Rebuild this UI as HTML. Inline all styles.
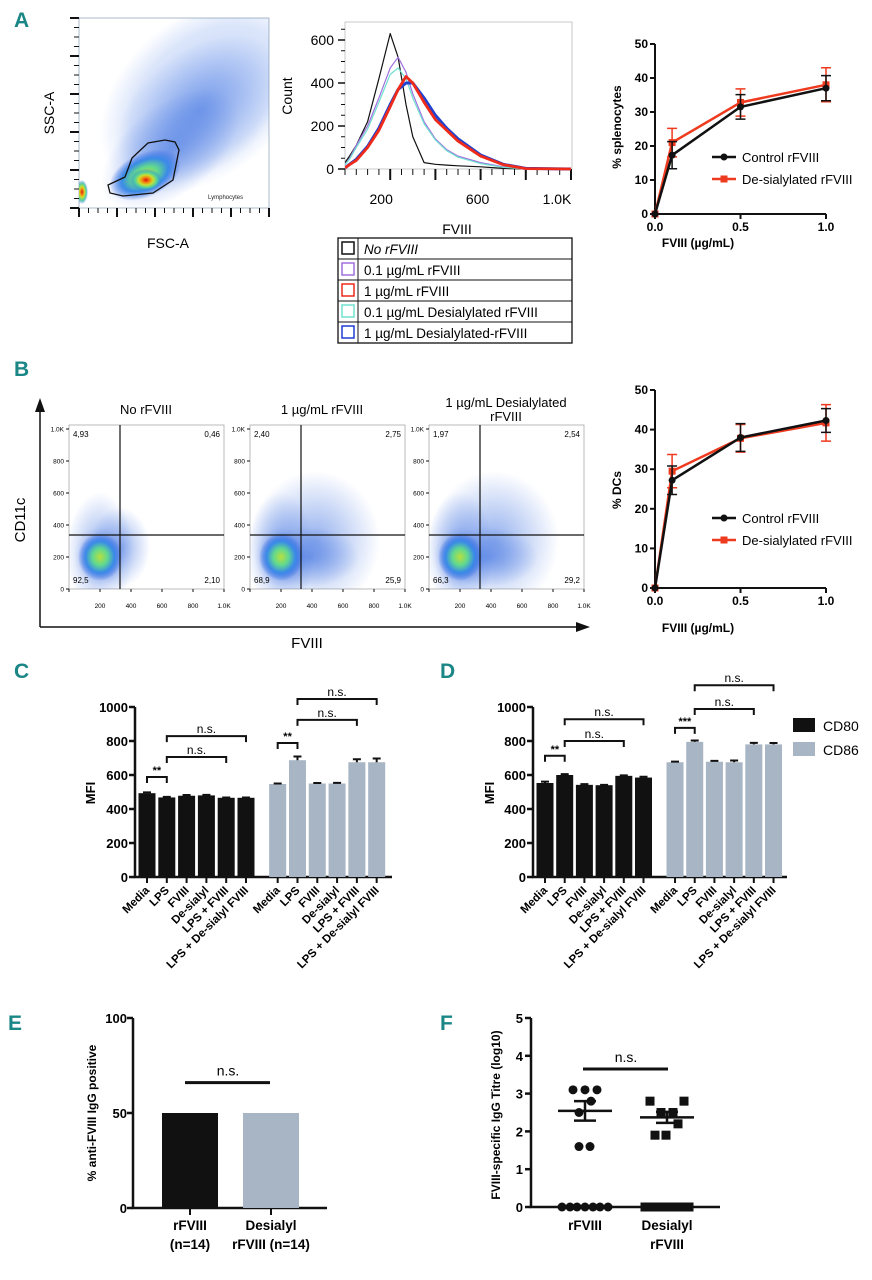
<!DOCTYPE html>
<html><head><meta charset="utf-8"><style>
html,body{margin:0;padding:0;background:#fff}
svg{display:block;font-family:"Liberation Sans",sans-serif}
.pl{font-size:21px;fill:#1a8686;font-weight:bold}
.b{font-weight:bold}
</style></head><body>
<svg id="fig" width="872" height="1280" viewBox="0 0 872 1280" xmlns="http://www.w3.org/2000/svg">
<defs>
<radialGradient id="hot"><stop offset="0" stop-color="#e01010"/><stop offset="0.25" stop-color="#f08a10"/><stop offset="0.45" stop-color="#c8e030"/><stop offset="0.7" stop-color="#50d0a0"/><stop offset="1" stop-color="#3070e0" stop-opacity="0"/></radialGradient>
<radialGradient id="warm"><stop offset="0" stop-color="#b8e040"/><stop offset="0.35" stop-color="#60d890"/><stop offset="0.65" stop-color="#3a8ae8"/><stop offset="1" stop-color="#3060e0" stop-opacity="0"/></radialGradient>
<radialGradient id="haze"><stop offset="0" stop-color="#3a6ee0" stop-opacity="0.55"/><stop offset="1" stop-color="#3a6ee0" stop-opacity="0"/></radialGradient>
<radialGradient id="hazeLight"><stop offset="0" stop-color="#4a7ee8" stop-opacity="0.35"/><stop offset="0.7" stop-color="#4a7ee8" stop-opacity="0.2"/><stop offset="1" stop-color="#4a7ee8" stop-opacity="0"/></radialGradient>
<clipPath id="clipA"><rect x="79" y="18" width="190" height="190"/></clipPath>
<clipPath id="clipB0"><rect x="69" y="425" width="155" height="164"/></clipPath>
<clipPath id="clipB1"><rect x="250" y="425" width="155" height="164"/></clipPath>
<clipPath id="clipB2"><rect x="429" y="425" width="155" height="164"/></clipPath>
<clipPath id="clipH"><rect x="345" y="22" width="227" height="150"/></clipPath>
</defs>

<text class="pl" x="14" y="27">A</text>
<text class="pl" x="14" y="376">B</text>
<text class="pl" x="14" y="678">C</text>
<text class="pl" x="440" y="678">D</text>
<text class="pl" x="8" y="1030">E</text>
<text class="pl" x="440" y="1030">F</text>

<g>
 <rect x="79" y="18" width="190" height="190" fill="#fff" stroke="#9ab" stroke-width="0.8"/>
 <g clip-path="url(#clipA)">
 <ellipse cx="205" cy="95" rx="120" ry="80" transform="rotate(-40 205 95)" fill="url(#hazeLight)"/>
 <ellipse cx="200" cy="110" rx="95" ry="60" transform="rotate(-38 200 110)" fill="url(#haze)"/>
 <ellipse cx="170" cy="150" rx="80" ry="45" transform="rotate(-38 170 150)" fill="url(#haze)"/>
 <ellipse cx="145" cy="175" rx="38" ry="22" transform="rotate(-25 145 175)" fill="url(#warm)"/>
 <ellipse cx="146" cy="180" rx="16" ry="11" fill="url(#hot)"/>
 <ellipse cx="82" cy="192" rx="6" ry="12" fill="url(#hot)"/>
 </g>
 <path d="M108,185 L110,193 L123,196 L153,193 L173,180 L179,150 L175,142 L165,140 L148,143 L132,158 L125,177 Z" fill="none" stroke="#111" stroke-width="1.3"/>
 <text x="208" y="199" font-size="6" fill="#222">Lymphocytes</text>
 <g id="aScatTicks" stroke="#111"></g>
 <text x="168" y="248" font-size="14" text-anchor="middle">FSC-A</text>
 <text x="54" y="113" font-size="14" text-anchor="middle" transform="rotate(-90 54 113)">SSC-A</text>
</g>

<g id="hist">
 <rect x="345" y="22" width="227" height="147" fill="none" stroke="#bbb" stroke-width="0.8"/>
 <text x="292" y="96" font-size="14" text-anchor="middle" transform="rotate(-90 292 96)">Count</text>
 <text x="457" y="234" font-size="14" text-anchor="middle">FVIII</text>
</g>

<g id="histLegend">
 <rect x="338" y="238" width="234" height="105" fill="#fff" stroke="#111" stroke-width="1.3"/>
</g>

<g id="lineA">
 <text x="621" y="127" font-size="12" class="b" text-anchor="middle" transform="rotate(-90 621 127)">% splenocytes</text>
 <text x="698" y="247" font-size="12" class="b" text-anchor="middle">FVIII (µg/mL)</text>
</g>

<g>
 <line x1="40" y1="627" x2="40" y2="410" stroke="#111" stroke-width="1.5"/>
 <polygon points="35,412 45,412 40,398" fill="#111"/>
 <line x1="40" y1="627" x2="578" y2="627" stroke="#111" stroke-width="1.5"/>
 <polygon points="576,622 576,632 590,627" fill="#111"/>
 <text x="25" y="520" font-size="15" text-anchor="middle" transform="rotate(-90 25 520)">CD11c</text>
 <text x="307" y="648" font-size="15" text-anchor="middle">FVIII</text>
 <text x="146" y="414" font-size="13" text-anchor="middle">No rFVIII</text>
 <text x="322" y="414" font-size="13" text-anchor="middle">1 µg/mL rFVIII</text>
 <text x="506" y="407" font-size="13" text-anchor="middle">1 µg/mL Desialylated</text>
 <text x="506" y="421" font-size="13" text-anchor="middle">rFVIII</text>
</g>
<g id="bPlots"></g>

<g id="lineB">
 <text x="621" y="490" font-size="12" class="b" text-anchor="middle" transform="rotate(-90 621 490)">% DCs</text>
 <text x="698" y="632" font-size="12" class="b" text-anchor="middle">FVIII (µg/mL)</text>
</g>

<g id="barC">
 <text x="95" y="793" font-size="13" class="b" text-anchor="middle" transform="rotate(-90 95 793)">MFI</text>
</g>
<g id="barD">
 <text x="494" y="793" font-size="13" class="b" text-anchor="middle" transform="rotate(-90 494 793)">MFI</text>
 <rect x="793" y="718" width="22" height="14" fill="#111"/>
 <text x="823" y="731" font-size="14">CD80</text>
 <rect x="793" y="742" width="22" height="14" fill="#a7b5c4"/>
 <text x="823" y="755" font-size="14">CD86</text>
</g>

<g id="barE">
 <text x="96" y="1113" font-size="12" class="b" text-anchor="middle" transform="rotate(-90 96 1113)">% anti-FVIII IgG positive</text>
</g>
<g id="dotF">
 <text x="500" y="1115" font-size="12" class="b" text-anchor="middle" transform="rotate(-90 500 1115)">FVIII-specific IgG Titre (log10)</text>
</g>
</svg>

<script>
// ---------- DATA ----------
const histX = [0,20,50,100,150,200,235,270,300,350,400,450,500,600,700,800,1000];
const histNoRF  = [30,60,110,220,420,630,520,300,150,30,22,18,15,10,3,0,0];
const histRF01  = [20,50,110,200,330,470,520,450,350,220,140,90,60,30,10,0,0];
const histDes01 = [20,45,100,185,310,440,470,420,330,210,135,85,55,25,8,0,0];
const histRF1   = [5,20,40,100,180,290,370,430,400,310,230,180,130,60,20,2,0];
const histDes1  = [5,22,45,105,190,300,370,400,400,330,250,190,140,65,22,3,0];
const histYTicks = [0,200,400,600];
const histXTicks = [200,600,1000];
const histXTickLabels = ['200','600','1.0K'];
const legendLabels = ['No rFVIII','0.1 µg/mL rFVIII','1 µg/mL rFVIII','0.1 µg/mL Desialylated rFVIII','1 µg/mL Desialylated-rFVIII'];

const doseX = [0,0.1,0.5,1.0];
const splenoControl = [0,17.3,31.5,37];
const splenoControlErr = [0,4,3.6,3.7];
const splenoDes = [0,21,32.8,38];
const splenoDesErr = [0,4.2,4,5];
const dcControl = [0,27.2,38,42.3];
const dcControlErr = [0,3.6,3.5,3];
const dcDes = [0,29.5,37.8,41.7];
const dcDesErr = [0,4.2,3.5,4.6];
const lineYTicks = [0,10,20,30,40,50];
const lineXTicks = [0,0.5,1.0];
const lineXTickLabels = ['0.0','0.5','1.0'];

const bQuadrants = [['4,93','0,46','92,5','2,10'],['2,40','2,75','68,9','25,9'],['1,97','2,54','66,3','29,2']];
const bAxisTicks = [0,200,400,600,800,1000];
const bAxisTickLabels = ['0','200','400','600','800','1.0K'];

const barCats = ['Media','LPS','FVIII','De-sialyl','LPS + FVIII','LPS + De-sialyl FVIII'];
const cCD80 = [493,468,478,480,466,466];
const cCD80Err = [5,3,4,3,2,2];
const cCD86 = [547,687,550,550,675,675];
const cCD86Err = [3,22,3,4,18,22];
const dCD80 = [553,600,542,540,595,585];
const dCD80Err = [8,5,4,2,3,5];
const dCD86 = [675,795,678,675,780,780];
const dCD86Err = [4,8,5,10,9,8];
const barYTicks = [0,200,400,600,800,1000];
const cBrackets = [[0,0,1,588,'**'],[0,1,4,706,'n.s.'],[0,1,5,829,'n.s.'],[1,0,1,788,'**'],[1,1,4,924,'n.s.'],[1,1,5,1047,'n.s.']];
const dBrackets = [[0,0,1,713,'**'],[0,1,4,800,'n.s.'],[0,1,5,928,'n.s.'],[1,0,1,877,'***'],[1,1,4,988,'n.s.'],[1,1,5,1128,'n.s.']];

const eGroups = ['rFVIII','Desialyl'];
const ePercent = [50,50];
const eYTicks = [0,50,100];

const fRF = [3.1,3.1,3.1,2.8,2.5,1.6,1.6,0,0,0,0,0,0,0];
const fDes = [2.8,2.8,2.5,2.5,2.2,1.9,1.9,0,0,0,0,0,0,0];
const fYTicks = [0,1,2,3,4,5];
const fRFJitter = [-12,0,12,6,-6,-6,5,-23,-15,-8,0,8,15,23];
const fDesJitter = [-17,17,-6,6,11,-12,-1,-22,-15,-7,0,7,15,22];

// ---------- HELPERS ----------
const NS='http://www.w3.org/2000/svg';
function el(tag, attrs, parent){const e=document.createElementNS(NS,tag);for(const k in attrs)e.setAttribute(k,attrs[k]);(parent||document.getElementById('fig')).appendChild(e);return e;}
function txt(s, attrs, parent){const e=el('text',attrs,parent);e.textContent=s;return e;}

(function(){
 const g=document.getElementById('aScatTicks');
 for(let i=0;i<=20;i++){const y=208-i*9.5;const big=i%4===0;const t=el('line',{x1:big?70:74,y1:y,x2:79,y2:y,'stroke-width':big?2:1},g);
 
 }
 for(let i=0;i<=20;i++){const x=79+i*9.5;const big=i%4===0;const t=el('line',{x1:x,y1:208,x2:x,y2:big?217:213,'stroke-width':big?2:1},g);
 
 }
})();

(function(){
 const g=document.getElementById('hist');
 const hx=v=>345+v*0.226, hy=v=>169-v*0.215;
 histYTicks.forEach(v=>{const l=el('line',{x1:338,y1:hy(v),x2:345,y2:hy(v),stroke:'#111','stroke-width':1.5},g);
 
 
 const t=txt(String(v),{x:334,y:hy(v)+5,'font-size':14,'text-anchor':'end'},g);
 
 });
 for(let v=50;v<=650;v+=50){const l=el('line',{x1:341,y1:hy(v),x2:345,y2:hy(v),stroke:'#111','stroke-width':1},g);
 
 }
 for(let v=0;v<=1000;v+=50){const big=v%200===0&&v>0;const l=el('line',{x1:hx(v),y1:169,x2:hx(v),y2:big?180:175,stroke:'#111','stroke-width':big?2:1},g);
 
 }
 histXTicks.forEach((v,i)=>{const t=txt(histXTickLabels[i],{x:hx(v)-(i===2?14:i===0?9:3),y:204,'font-size':14,'text-anchor':'middle'},g);
 
 });
 const cg=el('g',{'clip-path':'url(#clipH)'},g);
 const series=[[histNoRF,'#111',1.2,'curve-no-rfviii'],[histRF01,'#a070e0',1.2,'curve-0.1-rfviii'],[histDes01,'#70e0d0',1.2,'curve-0.1-desialylated'],[histDes1,'#2040d0',3,'curve-1-desialylated'],[histRF1,'#ee2a1a',2.8,'curve-1-rfviii']];
 series.forEach(s=>{const d=histX.map((x,i)=>(i?'L':'M')+hx(x).toFixed(1)+','+hy(s[0][i]).toFixed(1)).join(' ');
 const p=el('path',{d:d,fill:'none',stroke:s[1],'stroke-width':s[2],'stroke-linejoin':'round'},cg);
 
 });
 const lg=document.getElementById('histLegend');
 const cols=['#111','#a070e0','#ee2a1a','#70e0d0','#2040d0'];
 legendLabels.forEach((s,i)=>{const y=238+i*21;
 if(i>0){const l=el('line',{x1:338,y1:y,x2:572,y2:y,stroke:'#111','stroke-width':1},lg);
 
 }
 const b=el('rect',{x:342,y:y+4,width:12,height:12,fill:'none',stroke:cols[i],'stroke-width':1.5},lg);
 
 
 const t=txt(s,{x:364,y:y+16,'font-size':13.5,'font-style':i===0?'italic':'normal'},lg);
 
 });
 const vl=el('line',{x1:358,y1:238,x2:358,y2:343,stroke:'#111','stroke-width':1},lg);
 
 
})();

function lineChart(gid, y0, y50, ctl, ctlE, des, desE, legY){
 const g=document.getElementById(gid);
 const lx=v=>655+v*171, ly=v=>y0-(y0-y50)*v/50;
 const ax=el('path',{d:`M655,${ly(50)} L655,${y0} L${lx(1)},${y0}`,fill:'none',stroke:'#111','stroke-width':2},g);
 
 
 lineYTicks.forEach(v=>{const l=el('line',{x1:650,y1:ly(v),x2:655,y2:ly(v),stroke:'#111','stroke-width':2},g);
 
 
 const t=txt(String(v),{x:648,y:ly(v)+4,'font-size':12,'font-weight':'bold','text-anchor':'end'},g);
 
 });
 lineXTicks.forEach((v,i)=>{const l=el('line',{x1:lx(v),y1:y0,x2:lx(v),y2:y0+5,stroke:'#111','stroke-width':2},g);
 
 
 const t=txt(lineXTickLabels[i],{x:lx(v),y:y0+17,'font-size':12,'font-weight':'bold','text-anchor':'middle'},g);
 
 });
 [[des,desE,'#ee3a1e','desialylated-series'],[ctl,ctlE,'#111','control-series']].forEach(s=>{
  const d=doseX.map((x,i)=>(i?'L':'M')+lx(x)+','+ly(s[0][i])).join(' ');
  const p=el('path',{d:d,fill:'none',stroke:s[2],'stroke-width':2.5},g);
  
  
  doseX.forEach((x,i)=>{const v=s[0][i],e=s[1][i];
   if(e>0){const eb=el('path',{d:`M${lx(x)},${ly(v-e)} L${lx(x)},${ly(v+e)} M${lx(x)-5},${ly(v-e)} L${lx(x)+5},${ly(v-e)} M${lx(x)-5},${ly(v+e)} L${lx(x)+5},${ly(v+e)}`,stroke:s[2],'stroke-width':1.5,fill:'none'},g);
   
   }
   const m=s[2]==='#111'?el('circle',{cx:lx(x),cy:ly(v),r:3.5,fill:s[2]},g):el('rect',{x:lx(x)-3.5,y:ly(v)-3.5,width:7,height:7,fill:s[2]},g);
   
   });
 });
 [['Control rFVIII','#111',legY],['De-sialylated rFVIII','#ee3a1e',legY+22]].forEach((s,i)=>{
  const l=el('line',{x1:712,y1:s[2],x2:736,y2:s[2],stroke:s[1],'stroke-width':2.5},g);
  
  
  const m=i===0?el('circle',{cx:724,cy:s[2],r:3.5,fill:s[1]},g):el('rect',{x:720.5,y:s[2]-3.5,width:7,height:7,fill:s[1]},g);
  
  
  const t=txt(s[0],{x:742,y:s[2]+5,'font-size':13},g);
  
  });
}
lineChart('lineA',214,44,splenoControl,splenoControlErr,splenoDes,splenoDesErr,157);
lineChart('lineB',588,390,dcControl,dcControlErr,dcDes,dcDesErr,518);

(function(){
 const root=document.getElementById('bPlots');
 const lefts=[69,250,429];
 bQuadrants.forEach((q,k)=>{
  const g=el('g',{},root);
  
  
  const L=lefts[k], R=L+155, T=425, B=589;
  const px=v=>L+v*0.155, py=v=>B-v*0.16;
  el('rect',{x:L,y:T,width:155,height:164,fill:'#fff',stroke:'#aaa','stroke-width':0.8},g);
  const cg=el('g',{'clip-path':`url(#clipB${k})`},g);
  el('ellipse',{cx:px(200),cy:py(230),rx:34,ry:60,fill:'url(#haze)'},cg);
  if(k>0){el('ellipse',{cx:px(420),cy:py(300),rx:65,ry:70,fill:'url(#haze)'},cg);
   el('ellipse',{cx:px(380),cy:py(200),rx:50,ry:30,fill:'url(#haze)'},cg);}
  else {el('ellipse',{cx:px(330),cy:py(260),rx:30,ry:40,fill:'url(#haze)'},cg);}
  el('ellipse',{cx:px(200),cy:py(200),rx:26,ry:30,fill:'url(#haze)'},cg);
  el('ellipse',{cx:px(200),cy:py(200),rx:22,ry:24,fill:'url(#warm)'},cg);
  const vx=L+51, hy=535;
  const ql=el('path',{d:`M${vx},${T} L${vx},${B} M${L},${hy} L${R},${hy}`,stroke:'#111','stroke-width':1.2,fill:'none'},g);
  
  
  const pos=[[L+4,T+12,'start'],[R-4,T+12,'end'],[L+4,B-6,'start'],[R-4,B-6,'end']];
  q.forEach((s,i)=>{const t=txt(s,{x:pos[i][0],y:pos[i][1],'font-size':8,'text-anchor':pos[i][2]},g);
  
  });
  bAxisTicks.forEach((v,i)=>{
   const t=txt(bAxisTickLabels[i],{x:L-5,y:py(v)+2.5,'font-size':6.5,'text-anchor':'end'},g);
   
   
   if(v>0){const t2=txt(bAxisTickLabels[i],{x:px(v),y:608,'font-size':6.5,'text-anchor':'middle'},g);
   
   }
   const l=el('path',{d:`M${L-3},${py(v)} L${L},${py(v)} M${px(v)},${B} L${px(v)},${B+3}`,stroke:'#111','stroke-width':1},g);
   
   });
 });
})();

function barChart(gid, x0, step, axisEnd, d80, e80, d86, e86, brackets){
 const g=document.getElementById(gid);
 const yb=v=>877-v*0.17, xb=(grp,i)=>x0+(i+grp*6.6)*step;
 const ax=el('path',{d:`M${x0-12},${yb(1000)} L${x0-12},${yb(0)} L${axisEnd},${yb(0)}`,fill:'none',stroke:'#111','stroke-width':2.5},g);
 
 
 barYTicks.forEach(v=>{const l=el('line',{x1:x0-18,y1:yb(v),x2:x0-12,y2:yb(v),stroke:'#111','stroke-width':2.5},g);
 
 
 const t=txt(String(v),{x:x0-19,y:yb(v)+5,'font-size':13,'font-weight':'bold','text-anchor':'end'},g);
 
 });
 [[d80,e80,'#111','cd80'],[d86,e86,'#a7b5c4','cd86']].forEach((s,grp)=>{
  barCats.forEach((c,i)=>{const cx=xb(grp,i),v=s[0][i],e=s[1][i];
   const r=el('rect',{x:cx-8.5,y:yb(v),width:17,height:yb(0)-yb(v),fill:s[2]},g);
   
   
   const eb=el('path',{d:`M${cx},${yb(v)} L${cx},${yb(v+e)} M${cx-4},${yb(v+e)} L${cx+4},${yb(v+e)}`,stroke:'#111','stroke-width':2,fill:'none'},g);
   
   
   const tk=el('line',{x1:cx,y1:yb(0),x2:cx,y2:yb(0)+6,stroke:'#111','stroke-width':2},g);
   
   
   const t=txt(c,{x:cx+3,y:yb(0)+14,'font-size':11.5,'font-weight':'bold','text-anchor':'end',transform:`rotate(-45 ${cx+3} ${yb(0)+14})`},g);
   
   });
 });
 brackets.forEach(b=>{const a=xb(b[0],b[1]),c=xb(b[0],b[2]),y=yb(b[3]);
  const p=el('path',{d:`M${a},${y+6} L${a},${y} L${c},${y} L${c},${y+6}`,fill:'none',stroke:'#111','stroke-width':2},g);
  
  
  const t=txt(b[4],{x:(a+c)/2,y:y-3,'font-size':b[4]==='n.s.'?12:11,'font-weight':b[4]==='n.s.'?'normal':'bold','text-anchor':'middle'},g);
  
  });
}
barChart('barC',147,19.8,392,cCD80,cCD80Err,cCD86,cCD86Err,cBrackets);
barChart('barD',545,19.7,787,dCD80,dCD80Err,dCD86,dCD86Err,dBrackets);

(function(){
 const g=document.getElementById('barE');
 const ye=v=>1208-v*1.9, xe=[190,271], cols=['#111','#a7b5c4'];
 const ax=el('path',{d:`M133,${ye(100)} L133,${ye(0)} L327,${ye(0)}`,fill:'none',stroke:'#111','stroke-width':2.5},g);
 
 
 eYTicks.forEach(v=>{const l=el('line',{x1:127,y1:ye(v),x2:133,y2:ye(v),stroke:'#111','stroke-width':2.5},g);
 
 
 const t=txt(String(v),{x:127,y:ye(v)+5,'font-size':13,'font-weight':'bold','text-anchor':'end'},g);
 
 });
 ePercent.forEach((v,i)=>{const r=el('rect',{x:xe[i]-28,y:ye(v),width:56,height:ye(0)-ye(v),fill:cols[i]},g);
 
 
 const tk=el('line',{x1:xe[i],y1:ye(0),x2:xe[i],y2:ye(0)+7,stroke:'#111','stroke-width':2},g);
 
 });
 const lines=[['rFVIII','(n=14)'],['Desialyl','rFVIII (n=14)']];
 lines.forEach((ls,i)=>ls.forEach((s,j)=>{const t=txt(s,{x:xe[i],y:1230+j*19,'font-size':13.5,'font-weight':'bold','text-anchor':'middle'},g);
 
 }));
 const ns=el('line',{x1:185,y1:ye(66),x2:270,y2:ye(66),stroke:'#111','stroke-width':3},g);
 
 
 const nt=txt('n.s.',{x:228,y:ye(66)-7,'font-size':14,'text-anchor':'middle'},g);
 
 
})();

(function(){
 const g=document.getElementById('dotF');
 const yf=v=>1207-v*37.8, xf=[585,667];
 const ax=el('path',{d:`M531,${yf(5)} L531,${yf(0)} L720,${yf(0)}`,fill:'none',stroke:'#111','stroke-width':2.5},g);
 
 
 fYTicks.forEach(v=>{const l=el('line',{x1:525,y1:yf(v),x2:531,y2:yf(v),stroke:'#111','stroke-width':2.5},g);
 
 
 const t=txt(String(v),{x:523,y:yf(v)+5,'font-size':13,'font-weight':'bold','text-anchor':'end'},g);
 
 });
 [[fRF,fRFJitter,'circle'],[fDes,fDesJitter,'square']].forEach((s,gi)=>{
  s[0].forEach((v,i)=>{const x=xf[gi]+s[1][i],y=yf(v);
   const m=s[2]==='circle'?el('circle',{cx:x,cy:y,r:4.5,fill:'#111'},g):el('rect',{x:x-4.5,y:y-4.5,width:9,height:9,fill:'#111'},g);
   
   });
  const pos=s[0].filter(v=>v>0);
  const mean=pos.reduce((a,b)=>a+b,0)/pos.length;
  const sd=Math.sqrt(pos.reduce((a,b)=>a+(b-mean)*(b-mean),0)/(pos.length-1));
  const sem=sd/Math.sqrt(pos.length);
  const x=xf[gi];
  const ml=el('path',{d:`M${x-27},${yf(mean)} L${x+27},${yf(mean)} M${x},${yf(mean-sem)} L${x},${yf(mean+sem)} M${x-11},${yf(mean-sem)} L${x+11},${yf(mean-sem)} M${x-11},${yf(mean+sem)} L${x+11},${yf(mean+sem)}`,stroke:'#111','stroke-width':2.5,fill:'none'},g);
  
  
 });
 const lines=[['rFVIII'],['Desialyl','rFVIII']];
 lines.forEach((ls,i)=>ls.forEach((s,j)=>{const t=txt(s,{x:xf[i],y:1230+j*19,'font-size':13.5,'font-weight':'bold','text-anchor':'middle'},g);
 
 }));
 const ns=el('line',{x1:583,y1:yf(3.65),x2:668,y2:yf(3.65),stroke:'#111','stroke-width':3},g);
 
 
 const nt=txt('n.s.',{x:626,y:yf(3.65)-7,'font-size':14,'text-anchor':'middle'},g);
 
 
})();
</script>
</body></html>
